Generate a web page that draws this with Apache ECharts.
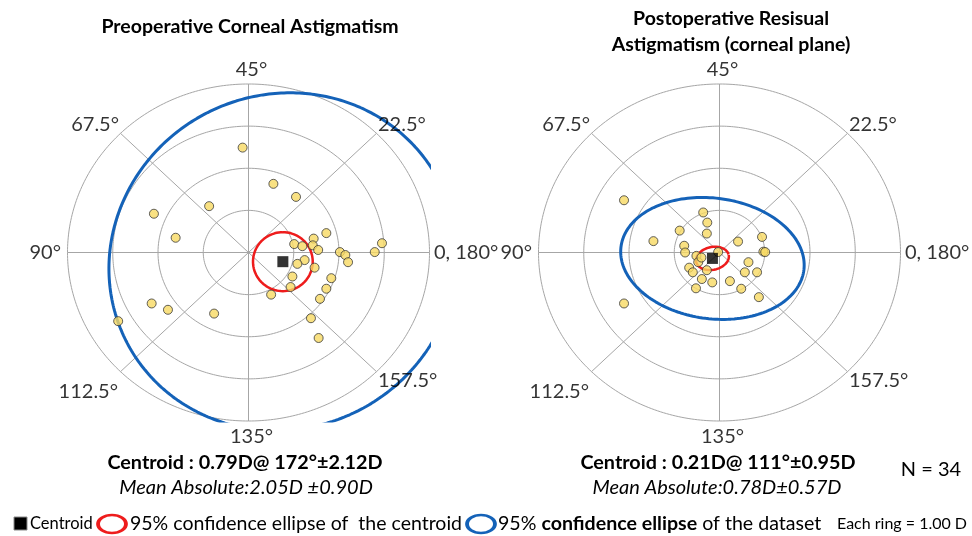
<!DOCTYPE html>
<html>
<head>
<meta charset="utf-8">
<script src="https://cdn.jsdelivr.net/npm/echarts@6/dist/echarts.min.js"></script>
<style>
  html, body { margin: 0; padding: 0; background: #fff; }
  #chart { width: 972px; height: 536px; }
</style>
</head>
<body>
<div id="chart"></div>
<script>
// Double-angle astigmatism vectors (diopters): x = M·cos(2·axis), y = M·sin(2·axis)
const preX = [-0.13, 0.55, 1.05, -0.87, -2.09, -1.61, 1.72, 1.44, 1.01, 1.19, 1.42, 1.54,
              2.95, 2.79, 2.02, 2.14, 2.20, 1.24, 1.08, 1.46, 0.97, 1.83, 0.93, 1.72,
              0.50, 1.58, 1.38, 1.55, -2.14, -1.78, -0.76, -2.88];
const preY = [2.49, 1.63, 1.32, 1.10, 0.92, 0.35, 0.46, 0.33, 0.20, 0.15, 0.17, 0.06,
              0.22, 0.01, 0.01, -0.06, -0.23, -0.18, -0.27, -0.36, -0.57, -0.61, -0.82, -0.86,
              -1.00, -1.10, -1.56, -2.03, -1.21, -1.36, -1.45, -1.63];

const postX = [-2.11, -1.46, -2.11, -0.36, -0.27, -0.88, -0.28, -0.78, -0.76, -0.51, -0.47, -0.67,
               -0.59, -0.28, -0.39, -0.52, -0.16, -0.03, 0.23, 0.41, 0.94, 0.97, 1.01, 0.64,
               0.56, 0.83, 0.48, 0.87, -0.40];
const postY = [1.24, 0.27, -1.21, 0.95, 0.71, 0.52, 0.45, 0.16, 0.00, -0.08, -0.23, -0.36,
               -0.47, -0.42, -0.63, -0.85, -0.71, 0.01, -0.68, 0.26, 0.37, 0.02, 0.01, -0.23,
               -0.47, -0.47, -0.86, -1.06, -0.12];

// Polar grid: ring radii (D) and meridian labels (axis in degrees)
const ringRadii = [1, 2, 3, 4];
const axisTickAngles = [0, 22.5, 45, 67.5, 90, 112.5, 135, 157.5];
const axisTickLabels = ['0, 180°', '22.5°', '45°', '67.5°', '90°', '112.5°', '135°', '157.5°'];

// Summary statistics per plot: [preoperative, postoperative]
const plotTitles = ['Preoperative Corneal Astigmatism', 'Postoperative Resisual\nAstigmatism (corneal plane)'];
const centroidMagnitude = [0.79, 0.21];
const centroidAxis = [172, 111];
const centroidSD = [2.12, 0.95];
const meanAbsolute = [2.05, 0.78];
const meanAbsoluteSD = [0.90, 0.57];
const sampleSize = 34;

// 95% confidence ellipses: semi-axes (D) and tilt of the first semi-axis (deg, double-angle space)
const centroidEllipseA = [0.70, 0.37];
const centroidEllipseB = [0.66, 0.27];
const centroidEllipseTilt = [90, 15];
const datasetEllipseA = [4.04, 2.04];
const datasetEllipseB = [3.81, 1.43];
const datasetEllipseTilt = [67.8, -8.9];

const FONT = 'Lato, "Open Sans", sans-serif';
const GRID_COLOR = '#a6a6a6';
const deg = Math.PI / 180;

function toVector(magnitude, axis) {
  return [magnitude * Math.cos(2 * axis * deg), magnitude * Math.sin(2 * axis * deg)];
}

function ellipsePoints(center, a, b, tilt) {
  const pts = [];
  const c = Math.cos(tilt * deg), s = Math.sin(tilt * deg);
  for (let k = 0; k <= 360; k += 1) {
    const t = k * deg;
    const u = a * Math.cos(t), v = b * Math.sin(t);
    pts.push([center[0] + u * c - v * s, center[1] + u * s + v * c]);
  }
  return pts;
}

// label placement around the outer ring, one per meridian
const tickLabelStyle = [
  { position: 'right', distance: 4, offset: [0, 0] },
  { position: 'right', distance: 1, offset: [0, -9] },
  { position: 'top', distance: 4, offset: [3, 0] },
  { position: 'left', distance: 1, offset: [0, -9] },
  { position: 'left', distance: 6, offset: [0, 0] },
  { position: 'left', distance: 2, offset: [0, 20] },
  { position: 'bottom', distance: 5, offset: [3, 0] },
  { position: 'right', distance: 1, offset: [0, 9] }
];

function plotSeries(i, xs, ys) {
  const axisIdx = { xAxisIndex: i, yAxisIndex: i };
  const series = [];
  const outer = ringRadii[ringRadii.length - 1];

  ringRadii.forEach(r => {
    series.push(Object.assign({
      type: 'line', silent: true, clip: false, symbol: 'none', z: 1,
      lineStyle: { color: GRID_COLOR, width: 1 },
      data: ellipsePoints([0, 0], r, r, 0)
    }, axisIdx));
  });
  axisTickAngles.slice(0, 4).forEach(ax => {
    series.push(Object.assign({
      type: 'line', silent: true, clip: false, symbol: 'none', z: 1,
      lineStyle: { color: GRID_COLOR, width: 1 },
      data: [toVector(-outer, ax), toVector(outer, ax)]
    }, axisIdx));
  });

  const centroid = toVector(centroidMagnitude[i], centroidAxis[i]);

  series.push(Object.assign({
    name: '95% confidence ellipse of the dataset',
    type: 'line', silent: true, clip: true, symbol: 'none', z: 3,
    lineStyle: { color: '#1462b8', width: 3 },
    data: ellipsePoints(centroid, datasetEllipseA[i], datasetEllipseB[i], datasetEllipseTilt[i])
  }, axisIdx));
  series.push(Object.assign({
    name: '95% confidence ellipse of the centroid',
    type: 'line', silent: true, clip: true, symbol: 'none', z: 4,
    lineStyle: { color: '#ee1c1c', width: 2.5 },
    data: ellipsePoints(centroid, centroidEllipseA[i], centroidEllipseB[i], centroidEllipseTilt[i])
  }, axisIdx));
  series.push(Object.assign({
    type: 'scatter', z: 5, symbolSize: 9,
    itemStyle: { color: '#f7da63', borderColor: '#3a3a3a', borderWidth: 1 },
    data: xs.map((x, k) => [x, ys[k]])
  }, axisIdx));
  series.push(Object.assign({
    name: 'Centroid',
    type: 'scatter', z: 6, symbol: 'rect', symbolSize: 11,
    itemStyle: { color: '#000' },
    data: [centroid]
  }, axisIdx));
  series.push(Object.assign({
    type: 'scatter', z: 6, silent: true, symbolSize: 1,
    itemStyle: { color: 'transparent' },
    data: axisTickAngles.map((ax, k) => ({
      value: toVector(outer, ax),
      label: Object.assign({
        show: true, formatter: axisTickLabels[k],
        fontFamily: FONT, fontSize: 20, color: '#000'
      }, tickLabelStyle[k])
    }))
  }, axisIdx));
  return series;
}

const grids = [
  { left: 67.5, top: 84, width: 362, height: 337 },
  { left: 538.5, top: 84, width: 362, height: 337 }
];

function fmt2(v) { return v.toFixed(2); }

const statTexts = [0, 1].map(i => ({
  centroid: 'Centroid : ' + fmt2(centroidMagnitude[i]) + 'D@ ' + centroidAxis[i] + '°±' + fmt2(centroidSD[i]) + 'D',
  mean: 'Mean Absolute:' + fmt2(meanAbsolute[i]) + 'D' + (i === 0 ? ' ' : '') + '±' + fmt2(meanAbsoluteSD[i]) + 'D'
}));

const text = (x, y, str, font, extra) => Object.assign({
  type: 'text', x: x, y: y, silent: true,
  style: Object.assign({ text: str, font: font, fill: '#000', align: 'center', verticalAlign: 'middle' }, extra || {})
});

const graphics = [
  text(250, 27, plotTitles[0], 'bold 19.5px ' + FONT),
  text(731, 32, plotTitles[1], 'bold 19.5px ' + FONT, { lineHeight: 26 }),
  text(245, 463, statTexts[0].centroid, 'bold 19.8px ' + FONT),
  text(246, 488, statTexts[0].mean, 'italic 20px ' + FONT),
  text(718, 463, statTexts[1].centroid, 'bold 19.8px ' + FONT),
  text(717, 488, statTexts[1].mean, 'italic 20px ' + FONT),
  text(931, 470, 'N = ' + sampleSize, '20px ' + FONT),
  // legend row
  { type: 'rect', silent: true, shape: { x: 14, y: 517, width: 13, height: 13 },
    style: { fill: '#000', stroke: '#8a8a8a', lineWidth: 1 } },
  text(30, 524, 'Centroid', '16.5px ' + FONT, { align: 'left' }),
  { type: 'circle', silent: true, x: 112, y: 524, scaleX: 1.55, scaleY: 1,
    shape: { cx: 0, cy: 0, r: 9 }, style: { fill: 'none', stroke: '#ee1c1c', lineWidth: 2.5 } },
  text(130, 524, '95% confidence ellipse of  the centroid', '19.5px ' + FONT, { align: 'left' }),
  { type: 'circle', silent: true, x: 481, y: 524, scaleX: 1.55, scaleY: 1,
    shape: { cx: 0, cy: 0, r: 9 }, style: { fill: 'none', stroke: '#1462b8', lineWidth: 2.5 } },
  text(498, 524, '95% {b|confidence ellipse} of the dataset', '19.6px ' + FONT,
    { align: 'left', rich: { b: { fontWeight: 'bold', fontSize: 19.6, fontFamily: FONT } } }),
  text(837, 524, 'Each ring = ' + ringRadii[0].toFixed(2) + ' D', '16px ' + FONT, { align: 'left' })
];

const chart = echarts.init(document.getElementById('chart'), null, { renderer: 'canvas' });
chart.setOption({
  animation: false,
  backgroundColor: '#fff',
  grid: grids,
  xAxis: grids.map((g, i) => ({ type: 'value', gridIndex: i, min: -4, max: 4, show: false })),
  yAxis: grids.map((g, i) => ({ type: 'value', gridIndex: i, min: -4, max: 4, show: false })),
  series: plotSeries(0, preX, preY).concat(plotSeries(1, postX, postY)),
  graphic: graphics
});
</script>
</body>
</html>
